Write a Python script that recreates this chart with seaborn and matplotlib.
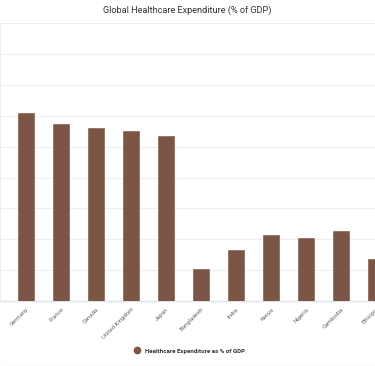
import matplotlib
matplotlib.use("Agg")
import matplotlib.pyplot as plt
from matplotlib.lines import Line2D
import seaborn as sns
import pandas as pd

countries = ["Germany", "France", "Canada", "United Kingdom", "Japan",
             "Bangladesh", "India", "Kenya", "Nigeria", "Cambodia", "Ethiopia"]
values = [12.2, 11.45, 11.2, 11.05, 10.7, 2.1, 3.3, 4.25, 4.1, 4.55, 2.7]
series_name = "Healthcare Expenditure as % of GDP"
title = "Global Healthcare Expenditure (% of GDP)"

sns.set_theme(style="white")
plt.rcParams["font.family"] = ["Roboto", "DejaVu Sans"]

df = pd.DataFrame({"country": countries, "value": values})

W, H = 375, 366
fig = plt.figure(figsize=(W / 100, H / 100), dpi=100)
# axes extend slightly beyond the figure (reference is a cropped view)
x_left_px = 26 - 0.75 * 35
ax_width_px = 11.5 * 35
ax = fig.add_axes([x_left_px / W, (H - 301) / H, ax_width_px / W, (301 - 23.3) / H])

color = "#7b5546"
sns.barplot(data=df, x="country", y="value", color=color, width=0.48,
            saturation=1, edgecolor="#8a6455", linewidth=0.5, ax=ax, zorder=3)

ax.set_xlim(-0.75, 10.75)
ax.set_ylim(0, 18)
ax.set_yticks(range(0, 19, 2))
ax.set_yticklabels([])
ax.tick_params(axis="y", length=0)
ax.grid(axis="y", color="#eeeeee", linewidth=0.8, zorder=0)
ax.set_xlabel("")
ax.set_ylabel("")
for s in ["top", "right"]:
    ax.spines[s].set_visible(False)
ax.spines["left"].set_color("#eeeeee")
ax.spines["left"].set_linewidth(0.8)
ax.spines["bottom"].set_color("#dfe4ec")
ax.spines["bottom"].set_linewidth(1.0)
ax.tick_params(axis="x", length=0, pad=4)
for lab in ax.get_xticklabels():
    lab.set_rotation(45)
    lab.set_ha("right")
    lab.set_rotation_mode("anchor")
    lab.set_fontsize(4.3)
    lab.set_color("#666666")

fig.text(0.5, 1 - 10 / H, title, ha="center", va="center", fontsize=6.6, color="#333333")

handle = Line2D([], [], marker="o", linestyle="none", markersize=4.5,
                markerfacecolor=color, markeredgecolor=color)
fig.legend([handle], [series_name], loc="center", bbox_to_anchor=(0.5, 1 - 351 / H),
           frameon=False, prop={"size": 4.4, "weight": "bold"}, handletextpad=0.3,
           labelcolor="#333333")

fig.add_artist(Line2D([0, 1], [0.5 / H, 0.5 / H], color="#e6e6e6", linewidth=0.8))

fig.savefig("out.png", dpi=100)
